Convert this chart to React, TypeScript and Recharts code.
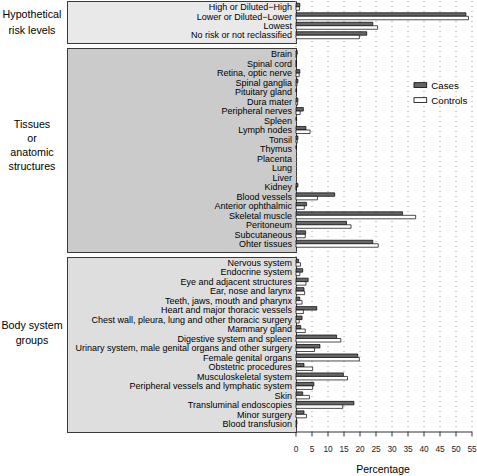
import React from "react";
import { BarChart, Bar, XAxis, YAxis, CartesianGrid, Legend } from "recharts";

const riskLabels = ["High or Diluted\u2212High", "Lower or Diluted\u2212Lower", "Lowest", "No risk or not reclassified"];
const riskCases = [1.2, 53.1, 24.0, 22.1];
const riskControls = [1.1, 53.9, 25.5, 19.8];

const tissueLabels = [
  "Brain", "Spinal cord", "Retina, optic nerve", "Spinal ganglia", "Pituitary gland", "Dura mater",
  "Peripheral nerves", "Spleen", "Lymph nodes", "Tonsil", "Thymus", "Placenta", "Lung", "Liver", "Kidney",
  "Blood vessels", "Anterior ophthalmic", "Skeletal muscle", "Peritoneum", "Subcutaneous", "Ohter tissues",
];
const tissueCases = [0.4, 0.1, 1.2, 0.6, 0.1, 0.6, 2.3, 0.1, 3.1, 0.6, 0.1, 0, 0, 0, 0.6, 12.1, 3.3, 33.3, 15.8, 3.0, 24.0];
const tissueControls = [0.2, 0.1, 1.0, 0.3, 0, 0.5, 1.3, 0, 4.4, 0.4, 0, 0, 0, 0, 0.1, 6.7, 2.6, 37.4, 17.2, 2.9, 25.7];

const bodyLabels = [
  "Nervous system", "Endocrine system", "Eye and adjacent structures", "Ear, nose and larynx",
  "Teeth, jaws, mouth and pharynx", "Heart and major thoracic vessels",
  "Chest wall, pleura, lung and other thoracic surgery", "Mammary gland", "Digestive system and spleen",
  "Urinary system, male genital organs and other surgery", "Female genital organs", "Obstetric procedures",
  "Musculoskeletal system", "Peripheral vessels and lymphatic system", "Skin", "Transluminal endoscopies",
  "Minor surgery", "Blood transfusion",
];
const bodyCases = [0.8, 2.1, 3.8, 2.5, 1.2, 6.5, 1.9, 1.5, 12.7, 7.5, 19.3, 2.5, 14.8, 5.6, 2.1, 18.1, 2.5, 0.3];
const bodyControls = [1.4, 1.2, 3.1, 2.7, 1.9, 2.3, 1.0, 2.9, 14.0, 5.8, 19.8, 5.2, 16.1, 5.2, 4.2, 14.6, 3.3, 0.2];

const xTicks = [0, 5, 10, 15, 20, 25, 30, 35, 40, 45, 50, 55];

const build = (labels: string[], cases: number[], controls: number[]) =>
  labels.map((name, i) => ({ name, cases: cases[i], controls: controls[i] }));

const data = [
  ...build(riskLabels, riskCases, riskControls),
  { name: " ", cases: null, controls: null },
  ...build(tissueLabels, tissueCases, tissueControls),
  { name: "  ", cases: null, controls: null },
  ...build(bodyLabels, bodyCases, bodyControls),
];

const FONT = "'Liberation Sans', Arial, sans-serif";

const panelStyle = (top: number, height: number, bg: string): React.CSSProperties => ({
  position: "absolute",
  left: 67,
  top,
  width: 230,
  height,
  boxSizing: "border-box",
  border: "1px solid #3a3a3a",
  background: bg,
});

const YTick = (props: any) => {
  const { x, y, payload } = props;
  return (
    <text x={x} y={y} textAnchor="end" dominantBaseline="central" fontSize={9} fill="#000">
      {payload.value}
    </text>
  );
};

const LegendContent = () => (
  <svg width={62} height={30} style={{ fontFamily: FONT }}>
    <rect x={2} y={4.7} width={12.7} height={4.7} fill="#666" stroke="#000" strokeWidth={0.8} />
    <text x={19.3} y={7.3} fontSize={9.7} dominantBaseline="central" fill="#000">Cases</text>
    <rect x={2} y={19.7} width={12.7} height={4.7} fill="#fff" stroke="#000" strokeWidth={0.8} />
    <text x={19.3} y={22.3} fontSize={9.7} dominantBaseline="central" fill="#000">Controls</text>
  </svg>
);

export default function App() {
  return (
    <div style={{ position: "absolute", left: 0, top: 0, width: 477, height: 476, fontFamily: FONT, background: "#fff" }}>
      <div style={panelStyle(1, 43, "#e9e9e9")} />
      <div style={panelStyle(48, 205, "#cbcbcb")} />
      <div style={panelStyle(257, 176, "#dedede")} />
      <div style={{ position: "absolute", left: 0, top: 0 }}>
        <BarChart
          width={477}
          height={476}
          data={data}
          layout="vertical"
          margin={{ top: 1, right: 5, bottom: 14, left: 0 }}
          barSize={3.5}
          barGap={0}
        >
          <CartesianGrid horizontal={false} stroke="#9a9a9a" strokeDasharray="1 4" />
          <XAxis
            type="number"
            domain={[0, 55]}
            ticks={xTicks}
            interval={0}
            height={30}
            tickSize={4.5}
            tickMargin={10}
            axisLine={{ stroke: "#333" }}
            tickLine={{ stroke: "#333" }}
            tick={{ fill: "#222", fontSize: 8.3 }}
          />
          <YAxis
            type="category"
            dataKey="name"
            width={296}
            interval={0}
            tickLine={false}
            axisLine={false}
            tickSize={0}
            tickMargin={4}
            padding={{ top: 1.3, bottom: 3.2 }}
            tick={<YTick />}
          />
          <Legend
            layout="horizontal"
            verticalAlign="middle"
            align="center"
            content={LegendContent}
            wrapperStyle={{ position: "absolute", left: 412, top: 78, width: 62, height: 30 }}
          />
          <Bar dataKey="cases" name="Cases" fill="#666" stroke="#000" strokeWidth={0.7} isAnimationActive={false} />
          <Bar dataKey="controls" name="Controls" fill="#fff" stroke="#000" strokeWidth={0.7} isAnimationActive={false} />
        </BarChart>
      </div>
      <svg
        width={477}
        height={476}
        style={{ position: "absolute", left: 0, top: 0, pointerEvents: "none", fontFamily: FONT }}
      >
        <g fontSize={10.7} fill="#000" textAnchor="middle" dominantBaseline="central">
          <text x={32} y={13.5}>Hypothetical</text>
          <text x={32} y={29.5}>risk levels</text>
          <text x={32} y={124}>Tissues</text>
          <text x={32} y={138}>or</text>
          <text x={32} y={152}>anatomic</text>
          <text x={32} y={166}>structures</text>
          <text x={32} y={324.5}>Body system</text>
          <text x={32} y={339.5}>groups</text>
        </g>
        <text x={383} y={469.3} fontSize={10.5} textAnchor="middle" dominantBaseline="central" fill="#000">
          Percentage
        </text>
      </svg>
    </div>
  );
}
